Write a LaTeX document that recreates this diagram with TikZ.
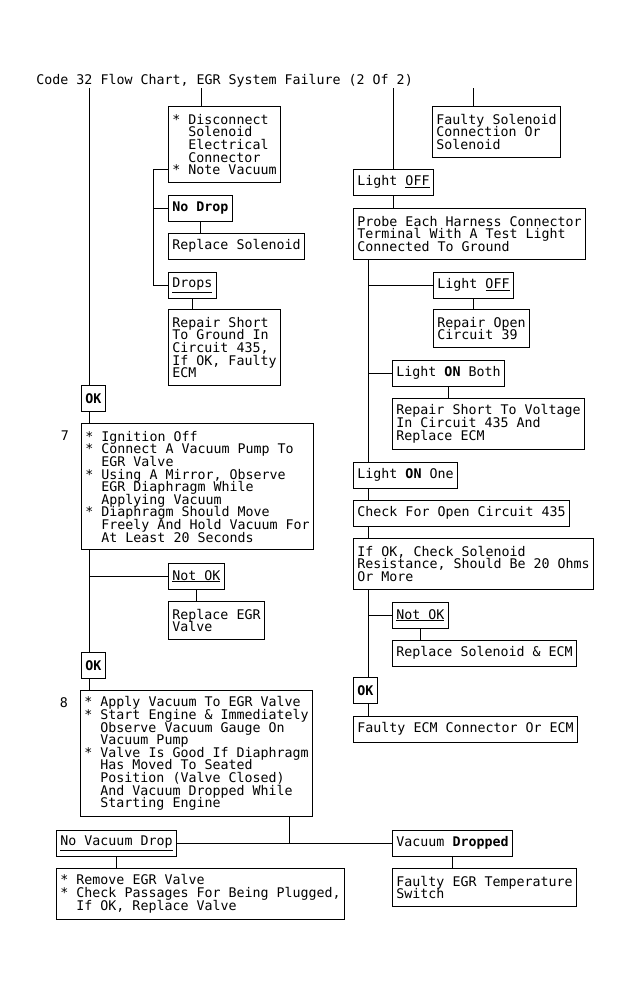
\documentclass[tikz,border=0pt]{standalone}
\usepackage{fontspec}
\usepackage{tikz}
\usetikzlibrary{positioning,calc}

\newfontfamily\chartmono{DejaVu Sans Mono}
\newcommand{\chartfont}{\chartmono\fontsize{13.3pt}{12.6pt}\selectfont\lineskiplimit=-20pt}
\newcommand{\indt}{\hspace*{16pt}}

\tikzset{
  chartbox/.style={draw, anchor=north west, align=left, inner xsep=4pt,
    inner ysep=0pt, minimum height={12.6pt*#1+13pt}},
  chartbox/.default=1
}

\begin{document}
\begin{tikzpicture}[x=1pt,y=-1pt,line width=0.9pt,font=\chartfont]
\useasboundingbox (0,0) rectangle (631,995);
\node[anchor=base west, inner sep=0pt] (title) at (36,85)
  {Code 32 Flow Chart, EGR System Failure (2 Of 2)};
	\path (89,0) coordinate(tL)
        (201,0) coordinate(tA)
        (153,0) coordinate(tB)
        (473,0) coordinate(tF)
        (368,0) coordinate(tP)
        (289,0) coordinate(tE);
% left column
\node[chartbox=5] (dsc) at (168,106)
  {* Disconnect\\\indt Solenoid\\\indt Electrical\\\indt Connector\\* Note Vacuum};
\node[chartbox] (nodrop) at (168,195) {\textbf{No Drop}};
\node[chartbox] (repsol) at (168,233) {Replace Solenoid};
\node[chartbox] (drops) at (168,272) {\underline{Drops}};
\node[chartbox=5] (repgnd) at (168,309)
  {Repair Short\\To Ground In\\Circuit 435,\\If OK, Faulty\\ECM};
\node[chartbox] (oka) at (81,385) {\textbf{OK}};
\node[chartbox=9] (step7) at (81,423)
  {* Ignition Off\\* Connect A Vacuum Pump To\\\indt EGR Valve\\* Using A Mirror, Observe\\\indt EGR Diaphragm While\\\indt Applying Vacuum\\* Diaphragm Should Move\\\indt Freely And Hold Vacuum For\\\indt At Least 20 Seconds};
\node[anchor=base, inner sep=0pt] (num7) at (65,440) {7};
\node[chartbox] (notoka) at (168,563) {\underline{Not OK}};
\node[chartbox=2] (repegr) at (168,601) {Replace EGR\\Valve};
\node[chartbox] (okb) at (81,652) {\textbf{OK}};
\node[chartbox=9] (step8) at (80,690)
  {* Apply Vacuum To EGR Valve\\* Start Engine \& Immediately\\\indt Observe Vacuum Gauge On\\\indt Vacuum Pump\\* Valve Is Good If Diaphragm\\\indt Has Moved To Seated\\\indt Position (Valve Closed)\\\indt And Vacuum Dropped While\\\indt Starting Engine};
\node[anchor=base, inner sep=0pt] (num8) at (64,707) {8};
\node[chartbox] (novac) at (56,830) {\underline{No Vacuum Drop}};
\node[chartbox] (vacd) at (392,830) {Vacuum \textbf{Dropped}};
\node[chartbox=3] (remove) at (56,868)
  {* Remove EGR Valve\\* Check Passages For Being Plugged,\\\indt If OK, Replace Valve};
\node[chartbox=2] (fegr) at (392,868) {Faulty EGR Temperature\\Switch};
% right column
\node[chartbox=3] (fsol) at (432,106) {Faulty Solenoid\\Connection Or\\Solenoid};
\node[chartbox] (lightoff) at (353,169) {Light \underline{OFF}};
\node[chartbox=3] (probe) at (353,208)
  {Probe Each Harness Connector\\Terminal With A Test Light\\Connected To Ground};
\node[chartbox] (lightoffb) at (433,272) {Light \underline{OFF}};
\node[chartbox=2] (repopen) at (433,309) {Repair Open\\Circuit 39};
\node[chartbox] (lonboth) at (392,360) {Light \textbf{ON} Both};
\node[chartbox=3] (repvolt) at (392,398)
  {Repair Short To Voltage\\In Circuit 435 And\\Replace ECM};
\node[chartbox] (lonone) at (353,462) {Light \textbf{ON} One};
\node[chartbox] (chk) at (353,500) {Check For Open Circuit 435};
\node[chartbox=3] (ifok) at (353,538)
  {If OK, Check Solenoid\\Resistance, Should Be 20 Ohms\\Or More};
\node[chartbox] (notokb) at (392,602) {\underline{Not OK}};
\node[chartbox] (repsolecm) at (392,640) {Replace Solenoid \& ECM};
\node[chartbox] (okc) at (353,677) {\textbf{OK}};
\node[chartbox] (fecm) at (353,716) {Faulty ECM Connector Or ECM};
% connectors, left
\draw (tL |- title.south) -- (tL |- oka.north)
      (tA |- title.south) -- (tA |- dsc.north);
\draw ([yshift=13pt]dsc.south west) -| (tB |- drops.west) -- (drops.west)
      (nodrop.west) -- (nodrop.west -| tB);
\draw (nodrop.south) -- (nodrop.south |- repsol.north)
      (drops.south) -- (drops.south |- repgnd.north);
\draw (tL |- oka.south) -- (tL |- step7.north)
      (tL |- step7.south) -- (tL |- okb.north)
      (notoka.west) -- (notoka.west -| tL)
      (notoka.south) -- (notoka.south |- repegr.north)
      (tL |- okb.south) -- (tL |- step8.north);
\draw (tE |- step8.south) -- (tE |- novac.east)
      (novac.east) -- (vacd.west)
      (novac.south) -- (novac.south |- remove.north)
      (vacd.south) -- (vacd.south |- fegr.north);
% connectors, right
\draw (lightoff.north |- title.south) -- (lightoff.north)
      (tF |- title.south) -- (tF |- fsol.north)
      (lightoff.south) -- (lightoff.south |- probe.north);
\draw (tP |- probe.south) -- (tP |- lonone.north)
      (lightoffb.west) -- (lightoffb.west -| tP)
      (lonboth.west) -- (lonboth.west -| tP)
      (lightoffb.south) -- (lightoffb.south |- repopen.north)
      (lonboth.south) -- (lonboth.south |- repvolt.north);
\draw (tP |- lonone.south) -- (tP |- chk.north)
      (tP |- chk.south) -- (tP |- ifok.north)
      (tP |- ifok.south) -- (tP |- okc.north)
      (notokb.west) -- (notokb.west -| tP)
      (notokb.south) -- (notokb.south |- repsolecm.north)
      (tP |- okc.south) -- (tP |- fecm.north);
\end{tikzpicture}
\end{document}
